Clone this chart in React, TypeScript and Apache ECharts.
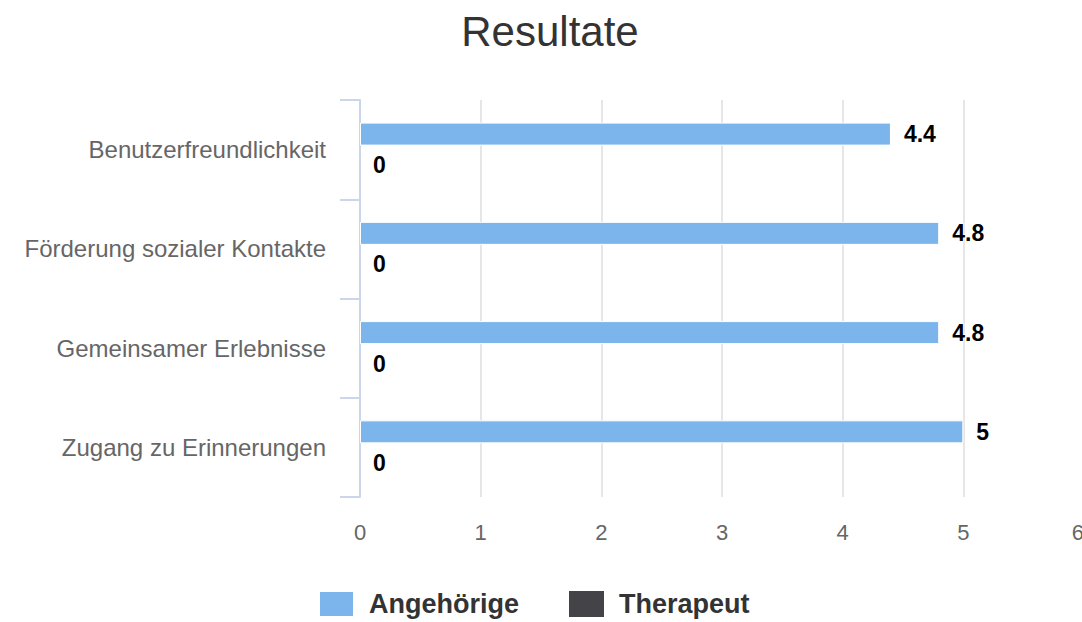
import React, { useEffect, useRef } from "react";
import * as echarts from "echarts";

const categories = [
  "Benutzerfreundlichkeit",
  "Förderung sozialer Kontakte",
  "Gemeinsamer Erlebnisse",
  "Zugang zu Erinnerungen",
];
const angehoerige = [4.4, 4.8, 4.8, 5];
const therapeut = [0, 0, 0, 0];
const seriesNames = ["Angehörige", "Therapeut"];
const xTicks = { min: 0, max: 6, interval: 1 };

const FONT = '"Liberation Sans", Arial, Helvetica, sans-serif';

export default function App() {
  const ref = useRef<HTMLDivElement>(null);
  useEffect(() => {
    if (!ref.current) return;
    const chart = echarts.init(ref.current, undefined, { renderer: "svg" });
    const label = {
      show: true,
      position: "right",
      distance: 13,
      color: "#000",
      fontWeight: "bold",
      fontSize: 23,
      fontFamily: FONT,
      textBorderColor: "#fff",
      textBorderWidth: 2,
    };
    chart.setOption({
      animation: false,
      backgroundColor: "#fff",
      title: {
        text: "Resultate",
        left: 545,
        textAlign: "center",
        top: 5,
        textStyle: { fontSize: 42, fontWeight: "normal", color: "#333", fontFamily: FONT },
      },
      legend: {
        data: seriesNames,
        left: 318,
        top: 590,
        padding: 0,
        icon: "rect",
        itemWidth: 35,
        itemHeight: 26,
        itemGap: 50,
        textStyle: {
          fontSize: 27,
          lineHeight: 27,
          fontWeight: "bold",
          color: "#333",
          fontFamily: FONT,
          padding: [0, 0, 0, 10],
        },
      },
      grid: {
        left: 360,
        right: -2,
        top: 100,
        bottom: 125,
        containLabel: false,
        outerBoundsMode: "none",
      },
      xAxis: {
        type: "value",
        min: xTicks.min,
        max: xTicks.max,
        interval: xTicks.interval,
        axisLine: { show: false },
        axisTick: { show: false },
        axisLabel: {
          color: "#666",
          fontSize: 22,
          margin: 24,
          fontFamily: FONT,
          alignMaxLabel: "right",
        },
        splitLine: { lineStyle: { color: "#e6e6e6", width: 2 } },
      },
      yAxis: {
        type: "category",
        data: categories,
        inverse: true,
        axisLine: { lineStyle: { color: "#ccd6eb", width: 2 } },
        axisTick: { show: true, length: 20, lineStyle: { color: "#ccd6eb", width: 2 } },
        axisLabel: { color: "#666", fontSize: 24, margin: 34, fontFamily: FONT },
      },
      series: [
        {
          name: seriesNames[0],
          type: "bar",
          data: angehoerige,
          barWidth: 23,
          barGap: "35%",
          itemStyle: { color: "#7cb5ec", borderColor: "#fff", borderWidth: 1 },
          label,
        },
        {
          name: seriesNames[1],
          type: "bar",
          data: therapeut,
          barWidth: 23,
          barGap: "35%",
          itemStyle: { color: "#434348" },
          label,
        },
      ],
    });
    return () => chart.dispose();
  }, []);
  return (
    <div
      ref={ref}
      style={{ position: "fixed", left: 0, top: 0, width: 1082, height: 622 }}
    />
  );
}
